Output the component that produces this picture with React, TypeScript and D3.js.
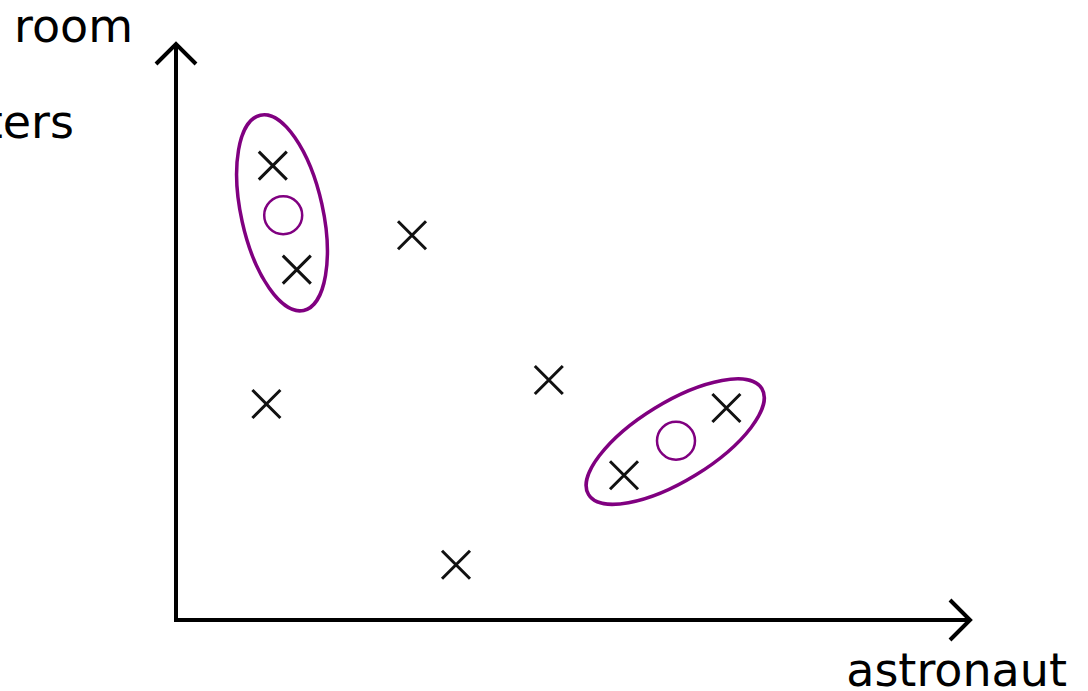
import React from "react";
import * as d3 from "d3";

// Observations (cross markers) in feature space
const pointX = [12.1, 15.1, 29.5, 11.3, 35.0, 46.6, 56.0, 68.8];
const pointY = [56.8, 43.8, 48.1, 27.0, 6.9, 30.0, 18.1, 26.5];

// Cluster centres (open circles)
const centreX = [13.4, 62.5];
const centreY = [50.6, 22.4];

// Cluster outlines: centre, semi-axes and major-axis angle (degrees, counter-clockwise)
const clusterCx = [13.25, 62.4];
const clusterCy = [50.9, 22.3];
const clusterMajor = [12.5, 12.7];
const clusterMinor = [5.1, 4.9];
const clusterAngle = [102.5, 31.5];

const axisLabels = ["room", "ters", "astronaut"];

const W = 1088;
const H = 691;
const PURPLE = "#800080";

export default function App() {
  const x = d3.scaleLinear().domain([0, 99.25]).range([176, 970]);
  const y = d3.scaleLinear().domain([0, 72]).range([620, 44]);
  const k = x(1) - x(0);

  const cross = 14;
  const arm = 20;

  const line = d3.line();

  return (
    <div style={{ position: "fixed", left: 0, top: 0, width: W, height: H, background: "#fff" }}>
      <svg width={W} height={H} style={{ display: "block" }} fontFamily="DejaVu Sans, sans-serif">
        {/* axes */}
        <path
          d={line([[x(0), y(72)], [x(0), y(0)], [x(99.25), y(0)]]) ?? ""}
          fill="none"
          stroke="#000"
          strokeWidth={4}
        />
        <path
          d={line([[x(0) - arm, y(72) + arm], [x(0), y(72)], [x(0) + arm, y(72) + arm]]) ?? ""}
          fill="none"
          stroke="#000"
          strokeWidth={4}
        />
        <path
          d={line([[x(99.25) - arm, y(0) - arm], [x(99.25), y(0)], [x(99.25) - arm, y(0) + arm]]) ?? ""}
          fill="none"
          stroke="#000"
          strokeWidth={4}
        />

        {/* cluster outlines */}
        {clusterCx.map((cx, i) => (
          <ellipse
            key={"e" + i}
            cx={0}
            cy={0}
            rx={clusterMajor[i] * k}
            ry={clusterMinor[i] * k}
            transform={`translate(${x(cx)},${y(clusterCy[i])}) rotate(${-clusterAngle[i]})`}
            fill="none"
            stroke={PURPLE}
            strokeWidth={3.5}
          />
        ))}

        {/* cluster centres */}
        {centreX.map((cx, i) => (
          <circle
            key={"c" + i}
            cx={x(cx)}
            cy={y(centreY[i])}
            r={19}
            fill="none"
            stroke={PURPLE}
            strokeWidth={2.5}
          />
        ))}

        {/* observations */}
        {pointX.map((px, i) => {
          const X = x(px);
          const Y = y(pointY[i]);
          return (
            <path
              key={"p" + i}
              d={`M${X - cross},${Y - cross}L${X + cross},${Y + cross}M${X - cross},${Y + cross}L${X + cross},${Y - cross}`}
              stroke="#111"
              strokeWidth={3}
              fill="none"
            />
          );
        })}

        {/* labels */}
        <text x={133} y={42} fontSize={46} textAnchor="end" fill="#000">{axisLabels[0]}</text>
        <text x={74} y={138} fontSize={46} textAnchor="end" fill="#000">{axisLabels[1]}</text>
        <text x={1067} y={686} fontSize={46} textAnchor="end" fill="#000">{axisLabels[2]}</text>
      </svg>
    </div>
  );
}
